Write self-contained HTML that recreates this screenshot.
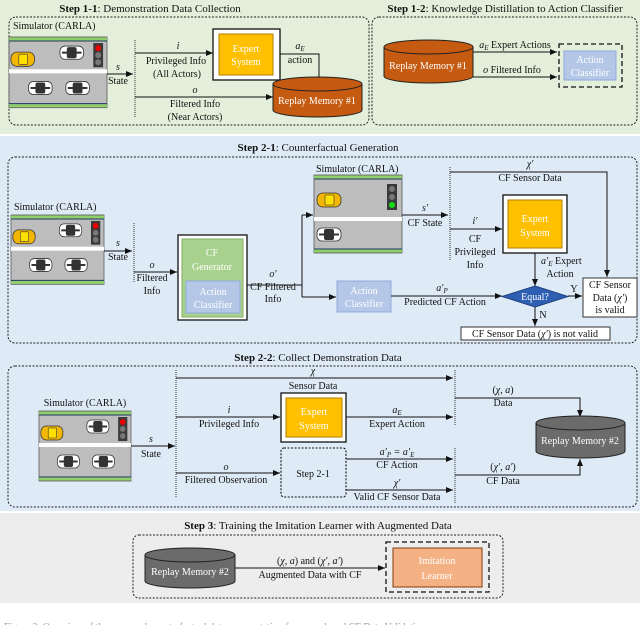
<!DOCTYPE html>
<html><head><meta charset="utf-8"><style>
html,body{margin:0;padding:0;background:#fff}
svg{display:block}
text{font-family:"Liberation Serif",serif;font-size:10px;fill:#111}
.c{text-anchor:middle}
.w{fill:#fff}
.t{font-size:11px}
</style></head><body>
<svg width="640" height="625" viewBox="0 0 640 625" xmlns="http://www.w3.org/2000/svg">
<defs>
<marker id="a" markerWidth="8" markerHeight="8" refX="7" refY="4" orient="auto" markerUnits="userSpaceOnUse"><path d="M0,1 L7,4 L0,7 z" fill="#111"/></marker>
<g id="wcar"><rect width="24" height="13" rx="5" fill="#fff" stroke="#333" stroke-width="0.8"/><rect x="7" y="1" width="10" height="11" rx="2" fill="#333"/><rect x="2" y="5.5" width="20" height="2" fill="#333"/></g>
<g id="ycar"><rect width="24" height="14" rx="6" fill="#f2b705" stroke="#333" stroke-width="0.8"/><rect x="8" y="2" width="9" height="10" rx="1" fill="#ffe000" stroke="#333" stroke-width="0.6"/></g>
<g id="road">
<rect x="0" y="0" width="100" height="70" fill="#bdbdbd" stroke="#555" stroke-width="0.8"/>
<rect x="0" y="0.5" width="100" height="3" fill="#8fcf6a"/><rect x="0" y="66.5" width="100" height="3" fill="#8fcf6a"/>
<line x1="0" y1="4" x2="100" y2="4" stroke="#1f3864"/><line x1="0" y1="66" x2="100" y2="66" stroke="#1f3864"/>
<rect x="0" y="32" width="100" height="4" fill="#fff"/>
<rect x="86" y="6" width="10" height="24" fill="#3a3a3a"/>
<circle cx="91" cy="11" r="3" fill="#e00"/><circle cx="91" cy="18" r="3" fill="#777"/><circle cx="91" cy="25" r="3" fill="#777"/>
<use href="#ycar" x="2" y="15"/><use href="#wcar" x="52" y="9"/><use href="#wcar" x="20" y="44"/><use href="#wcar" x="58" y="44"/>
</g>
</defs>

<rect x="0" y="0" width="640" height="134" fill="#e3efda"/>
<rect x="0" y="136" width="640" height="375" fill="#deebf7"/>
<rect x="0" y="513" width="640" height="90" fill="#ededed"/>

<text x="150" y="12" class="c t"><tspan font-weight="bold">Step 1-1</tspan>: Demonstration Data Collection</text>
<text x="505" y="12" class="c t"><tspan font-weight="bold">Step 1-2</tspan>: Knowledge Distillation to Action Classifier</text>
<rect x="9" y="17" width="360" height="108" rx="7" fill="none" stroke="#222" stroke-dasharray="2,1.5"/>
<rect x="372" y="17" width="265" height="108" rx="7" fill="none" stroke="#222" stroke-dasharray="2,1.5"/>
<text x="13" y="29">Simulator (CARLA)</text>
<use href="#road" transform="translate(9,37) scale(0.98,1.01)"/>
<line x1="107" y1="74" x2="133" y2="74" stroke="#111" marker-end="url(#a)"/>
<text x="118" y="70" class="c" font-style="italic">s</text><text x="118" y="84" class="c">State</text>
<line x1="135" y1="40" x2="135" y2="118" stroke="#333" stroke-dasharray="1,1"/>
<line x1="135" y1="53" x2="213" y2="53" stroke="#111" marker-end="url(#a)"/>
<text x="178" y="49" class="c" font-style="italic">i</text><text x="176" y="64" class="c">Privileged Info</text><text x="177" y="77" class="c">(All Actors)</text>
<rect x="213" y="29" width="67" height="51" fill="#fff" stroke="#111" stroke-width="1.3"/>
<rect x="219" y="34" width="54" height="41" fill="#ffc000" stroke="#b07e00"/>
<text x="246" y="52" class="c w" font-size="11">Expert</text><text x="246" y="65" class="c w" font-size="11">System</text>
<polyline points="280,54 319,54 319,88" fill="none" stroke="#111" marker-end="url(#a)"/>
<text x="300" y="49" class="c" font-style="italic">a<tspan font-size="7" dy="2">E</tspan></text><text x="300" y="63" class="c">action</text>
<path d="M273,84 v26 a44.5,7 0 0 0 89,0 v-26" fill="#c55a11" stroke="#222"/>
<ellipse cx="317.5" cy="84" rx="44.5" ry="7" fill="#c55a11" stroke="#222"/>
<text x="317" y="104" class="c w">Replay Memory #1</text>
<line x1="135" y1="97" x2="273" y2="97" stroke="#111" marker-end="url(#a)"/>
<text x="195" y="93" class="c" font-style="italic">o</text><text x="195" y="107" class="c">Filtered Info</text><text x="195" y="120" class="c">(Near Actors)</text>
<path d="M384,47 v29 a44.5,7 0 0 0 89,0 v-29" fill="#c55a11" stroke="#222"/>
<ellipse cx="428.5" cy="47" rx="44.5" ry="7" fill="#c55a11" stroke="#222"/>
<text x="428" y="69" class="c w">Replay Memory #1</text>
<line x1="473" y1="52" x2="557" y2="52" stroke="#111" marker-end="url(#a)"/>
<line x1="473" y1="77" x2="557" y2="77" stroke="#111" marker-end="url(#a)"/>
<text x="515" y="48" class="c"><tspan font-style="italic">a<tspan font-size="7" dy="2">E</tspan></tspan><tspan dy="-2"> Expert Actions</tspan></text>
<text x="512" y="73" class="c"><tspan font-style="italic">o</tspan> Filtered Info</text>
<rect x="559" y="44" width="63" height="43" fill="none" stroke="#111" stroke-width="1.3" stroke-dasharray="5,3"/>
<rect x="564" y="51" width="52" height="29" fill="#b4c7e7" stroke="#8faadc"/>
<text x="590" y="63" class="c w">Action</text><text x="590" y="76" class="c w">Classifier</text>

<text x="318" y="151" class="c t"><tspan font-weight="bold">Step 2-1</tspan>: Counterfactual Generation</text>
<rect x="8" y="157" width="629" height="186" rx="7" fill="none" stroke="#222" stroke-dasharray="2,1.5"/>
<text x="14" y="210">Simulator (CARLA)</text>
<use href="#road" transform="translate(11,215) scale(0.93,0.99)"/>
<line x1="104" y1="251" x2="132" y2="251" stroke="#111" marker-end="url(#a)"/>
<text x="118" y="246" class="c" font-style="italic">s</text><text x="118" y="260" class="c">State</text>
<line x1="134" y1="223" x2="134" y2="282" stroke="#333" stroke-dasharray="1,1"/>
<line x1="134" y1="272" x2="177" y2="272" stroke="#111" marker-end="url(#a)"/>
<text x="152" y="268" class="c" font-style="italic">o</text><text x="152" y="281" class="c">Filtered</text><text x="152" y="294" class="c">Info</text>
<rect x="178" y="235" width="69" height="85" fill="#fff" stroke="#111" stroke-width="1.3"/>
<rect x="182" y="239" width="61" height="78" fill="#a9d18e" stroke="#7fae60"/>
<text x="212" y="256" class="c w" font-size="11">CF</text><text x="212" y="270" class="c w" font-size="11">Generator</text>
<rect x="186" y="281" width="54" height="32" fill="#b4c7e7" stroke="#8faadc"/>
<text x="213" y="295" class="c w">Action</text><text x="213" y="308" class="c w">Classifier</text>
<line x1="247" y1="285" x2="302" y2="285" stroke="#111"/>
<line x1="302" y1="215" x2="302" y2="297" stroke="#111"/>
<line x1="302" y1="215" x2="313" y2="215" stroke="#111" marker-end="url(#a)"/>
<line x1="302" y1="297" x2="336" y2="297" stroke="#111" marker-end="url(#a)"/>
<text x="273" y="277" class="c" font-style="italic">o′</text><text x="273" y="290" class="c">CF Filtered</text><text x="273" y="302" class="c">Info</text>
<text x="316" y="172">Simulator (CARLA)</text>
<g transform="translate(314,175)">
<rect x="0" y="0" width="88" height="78" fill="#bdbdbd" stroke="#555" stroke-width="0.8"/>
<rect x="0" y="0.5" width="88" height="3" fill="#8fcf6a"/><rect x="0" y="74.5" width="88" height="3" fill="#8fcf6a"/>
<line x1="0" y1="4" x2="88" y2="4" stroke="#1f3864"/><line x1="0" y1="74" x2="88" y2="74" stroke="#1f3864"/>
<rect x="0" y="42" width="88" height="4" fill="#fff"/>
<rect x="73" y="9" width="10" height="26" fill="#3a3a3a"/>
<circle cx="78" cy="14" r="3" fill="#777"/><circle cx="78" cy="22" r="3" fill="#777"/><circle cx="78" cy="30" r="3" fill="#1d1"/>
<use href="#ycar" x="3" y="18"/><use href="#wcar" x="3" y="53"/>
</g>
<line x1="402" y1="215" x2="448" y2="215" stroke="#111" marker-end="url(#a)"/>
<text x="425" y="211" class="c" font-style="italic">s′</text><text x="425" y="226" class="c">CF State</text>
<line x1="450" y1="167" x2="450" y2="260" stroke="#333" stroke-dasharray="1,1"/>
<polyline points="450,172 607,172 607,277" fill="none" stroke="#111" marker-end="url(#a)"/>
<text x="530" y="167" class="c" font-style="italic">χ′</text><text x="530" y="181" class="c">CF Sensor Data</text>
<line x1="450" y1="229" x2="502" y2="229" stroke="#111" marker-end="url(#a)"/>
<text x="475" y="224" class="c" font-style="italic">i′</text><text x="475" y="242" class="c">CF</text><text x="475" y="255" class="c">Privileged</text><text x="475" y="268" class="c">Info</text>
<rect x="503" y="195" width="64" height="58" fill="#fff" stroke="#111" stroke-width="1.3"/>
<rect x="508" y="200" width="54" height="48" fill="#ffc000" stroke="#b07e00"/>
<text x="535" y="222" class="c w" font-size="11">Expert</text><text x="535" y="236" class="c w" font-size="11">System</text>
<line x1="535" y1="253" x2="535" y2="286" stroke="#111" marker-end="url(#a)"/>
<text x="541" y="264"><tspan font-style="italic">a′<tspan font-size="7" dy="2">E</tspan></tspan><tspan dy="-2"> Expert</tspan></text><text x="560" y="277" class="c">Action</text>
<rect x="337" y="281" width="54" height="31" fill="#b4c7e7" stroke="#8faadc"/>
<text x="364" y="294" class="c w">Action</text><text x="364" y="307" class="c w">Classifier</text>
<line x1="391" y1="296" x2="502" y2="296" stroke="#111" marker-end="url(#a)"/>
<text x="442" y="291" class="c" font-style="italic">a′<tspan font-size="7" dy="2">P</tspan></text><text x="445" y="305" class="c">Predicted CF Action</text>
<polygon points="535,286 568,296.5 535,307 502,296.5" fill="#2f5fb3" stroke="#1f3f80"/>
<text x="535" y="300" class="c w">Equal?</text>
<line x1="568" y1="296" x2="582" y2="296" stroke="#111" marker-end="url(#a)"/>
<text x="574" y="292" class="c">Y</text>
<rect x="583" y="278" width="54" height="39" fill="#fff" stroke="#333"/>
<text x="610" y="288" class="c">CF Sensor</text><text x="610" y="301" class="c">Data (<tspan font-style="italic">χ′</tspan>)</text><text x="610" y="313" class="c">is valid</text>
<line x1="535" y1="307" x2="535" y2="326" stroke="#111" marker-end="url(#a)"/>
<text x="543" y="318" class="c">N</text>
<rect x="461" y="327" width="149" height="13" fill="#fff" stroke="#333"/>
<text x="535" y="337" class="c">CF Sensor Data (<tspan font-style="italic">χ′</tspan>) is not valid</text>

<text x="318" y="361" class="c t"><tspan font-weight="bold">Step 2-2</tspan>: Collect Demonstration Data</text>
<rect x="8" y="366" width="629" height="141" rx="7" fill="none" stroke="#222" stroke-dasharray="2,1.5"/>
<text x="85" y="406" class="c">Simulator (CARLA)</text>
<use href="#road" transform="translate(39,411) scale(0.92,1)"/>
<line x1="131" y1="446" x2="175" y2="446" stroke="#111" marker-end="url(#a)"/>
<text x="151" y="442" class="c" font-style="italic">s</text><text x="151" y="457" class="c">State</text>
<line x1="176" y1="370" x2="176" y2="497" stroke="#333" stroke-dasharray="1,1"/>
<line x1="176" y1="378" x2="453" y2="378" stroke="#111" marker-end="url(#a)"/>
<text x="313" y="374" class="c" font-style="italic">χ</text><text x="313" y="389" class="c">Sensor Data</text>
<line x1="176" y1="417" x2="280" y2="417" stroke="#111" marker-end="url(#a)"/>
<text x="229" y="413" class="c" font-style="italic">i</text><text x="229" y="427" class="c">Privileged Info</text>
<rect x="281" y="393" width="65" height="49" fill="#fff" stroke="#111" stroke-width="1.3"/>
<rect x="286" y="398" width="56" height="39" fill="#ffc000" stroke="#b07e00"/>
<text x="314" y="415" class="c w" font-size="11">Expert</text><text x="314" y="429" class="c w" font-size="11">System</text>
<line x1="346" y1="417" x2="453" y2="417" stroke="#111" marker-end="url(#a)"/>
<text x="397" y="413" class="c" font-style="italic">a<tspan font-size="7" dy="2">E</tspan></text><text x="397" y="427" class="c">Expert Action</text>
<line x1="455" y1="370" x2="455" y2="425" stroke="#333" stroke-dasharray="1,1"/>
<line x1="455" y1="448" x2="455" y2="503" stroke="#333" stroke-dasharray="1,1"/>
<polyline points="455,398 580,398 580,417" fill="none" stroke="#111" marker-end="url(#a)"/>
<text x="503" y="393" class="c">(<tspan font-style="italic">χ</tspan>, <tspan font-style="italic">a</tspan>)</text><text x="503" y="406" class="c">Data</text>
<path d="M536,423 v28 a44.5,7 0 0 0 89,0 v-28" fill="#6b6b6b" stroke="#222"/>
<ellipse cx="580.5" cy="423" rx="44.5" ry="7" fill="#6b6b6b" stroke="#222"/>
<text x="580" y="444" class="c w">Replay Memory #2</text>
<polyline points="455,475 580,475 580,459" fill="none" stroke="#111" marker-end="url(#a)"/>
<text x="503" y="470" class="c">(<tspan font-style="italic">χ′</tspan>, <tspan font-style="italic">a′</tspan>)</text><text x="503" y="484" class="c">CF Data</text>
<line x1="176" y1="473" x2="280" y2="473" stroke="#111" marker-end="url(#a)"/>
<text x="226" y="470" class="c" font-style="italic">o</text><text x="226" y="483" class="c">Filtered Observation</text>
<rect x="281" y="448" width="65" height="49" rx="3" fill="none" stroke="#111" stroke-width="1.1" stroke-dasharray="2,1.5"/>
<text x="313" y="477" class="c" font-size="11">Step 2-1</text>
<line x1="346" y1="459" x2="453" y2="459" stroke="#111" marker-end="url(#a)"/>
<text x="397" y="455" class="c" font-style="italic">a′<tspan font-size="7" dy="2">P</tspan><tspan dy="-2"> = a′</tspan><tspan font-size="7" dy="2">E</tspan></text><text x="397" y="468" class="c">CF Action</text>
<line x1="346" y1="490" x2="453" y2="490" stroke="#111" marker-end="url(#a)"/>
<text x="397" y="486" class="c" font-style="italic">χ′</text><text x="397" y="500" class="c">Valid CF Sensor Data</text>

<text x="318" y="529" class="c t"><tspan font-weight="bold">Step 3</tspan>: Training the Imitation Learner with Augmented Data</text>
<rect x="133" y="535" width="370" height="63" rx="6" fill="none" stroke="#222" stroke-dasharray="2,1.5"/>
<path d="M145,555 v26 a45,7 0 0 0 90,0 v-26" fill="#6b6b6b" stroke="#222"/>
<ellipse cx="190" cy="555" rx="45" ry="7" fill="#6b6b6b" stroke="#222"/>
<text x="190" y="575" class="c w">Replay Memory #2</text>
<line x1="235" y1="568" x2="385" y2="568" stroke="#111" marker-end="url(#a)"/>
<text x="310" y="564" class="c">(<tspan font-style="italic">χ</tspan>, <tspan font-style="italic">a</tspan>) and (<tspan font-style="italic">χ′</tspan>, <tspan font-style="italic">a′</tspan>)</text>
<text x="310" y="578" class="c">Augmented Data with CF</text>
<rect x="386" y="542" width="103" height="50" fill="none" stroke="#111" stroke-width="1.3" stroke-dasharray="5,3"/>
<rect x="393" y="548" width="89" height="39" fill="#f4b183" stroke="#843c0c"/>
<text x="437" y="564" class="c w" font-size="11">Imitation</text><text x="437" y="579" class="c w" font-size="11">Learner</text>

<text x="4" y="630" style="fill:#999" font-size="11">Figure 2: Overview of the proposed counterfactual data augmentation framework and CF Data Validation</text>
</svg>
</body></html>
